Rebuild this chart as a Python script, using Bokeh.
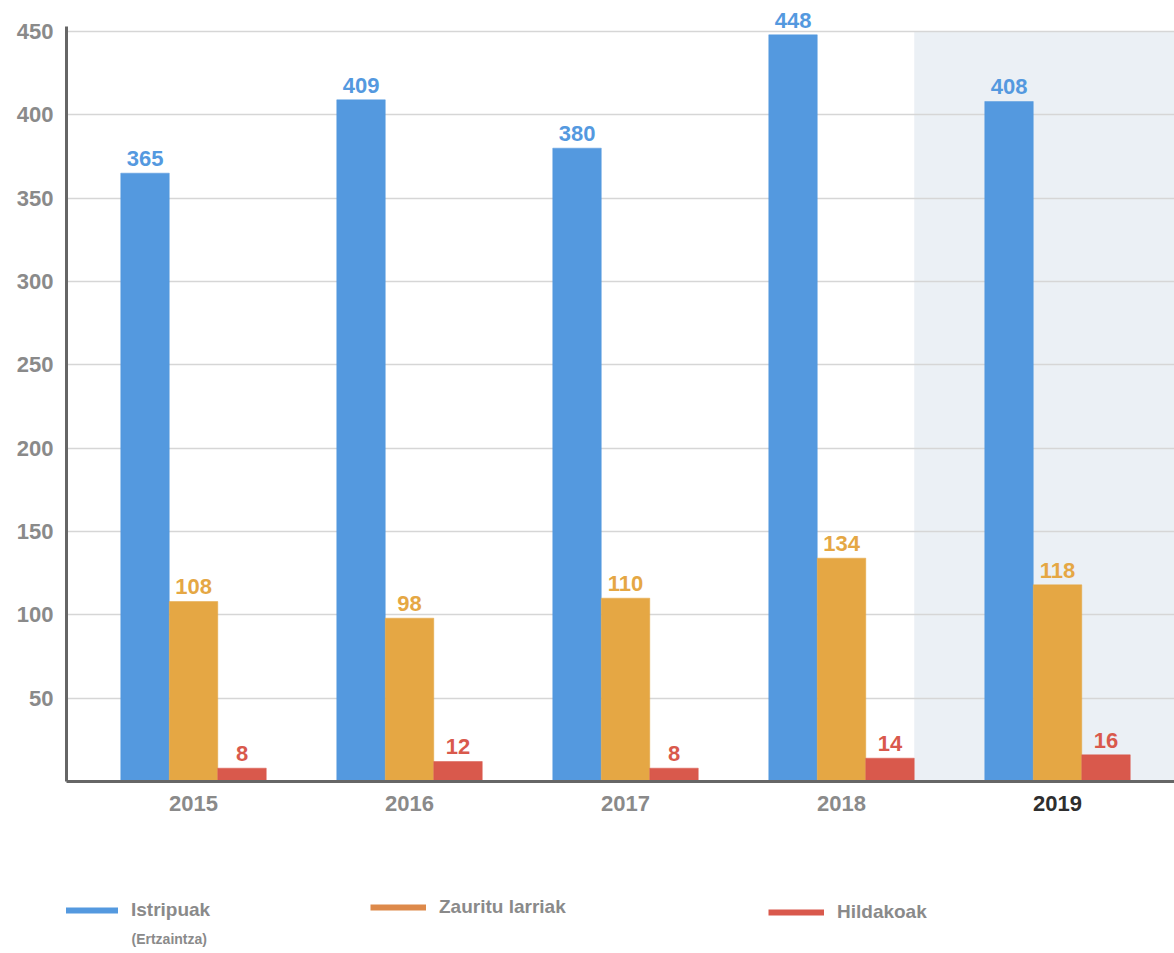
import numpy as np
from bokeh.plotting import figure
from bokeh.layouts import column
from bokeh.models import Range1d, FixedTicker, Legend, LegendItem, Label
from bokeh.core.properties import value
from bokeh.embed import file_html
from bokeh.resources import INLINE

# ---- data ----
years = ["2015", "2016", "2017", "2018", "2019"]
istripuak = [365, 409, 380, 448, 408]
zauritu_larriak = [108, 98, 110, 134, 118]
hildakoak = [8, 12, 8, 14, 16]
series_labels = ["Istripuak", "Zauritu larriak", "Hildakoak"]
series_sublabel = "(Ertzaintza)"
y_ticks = [50, 100, 150, 200, 250, 300, 350, 400, 450]
highlight_year = "2019"

# ---- style ----
BLUE = "#5499df"
ORANGE = "#e5a744"
RED = "#d9594c"
LEG_ORANGE = "#dd894a"
SHADE = "#ebf0f5"
GRAY_TXT = "#8a8a8a"
DARK_TXT = "#2e2e2e"
AXIS_COL = "#666666"
FONT = "Liberation Sans"

W = 1174
LEFT = 66
TOP = 5
H1 = 790
H2 = 160
BOTTOM_Y = 781
PX_PER_Y = 1.6667
X0 = -0.588
PX_PER_UNIT = 216.0
X1 = X0 + (W - LEFT) / PX_PER_UNIT
Y1 = (BOTTOM_Y - TOP) / PX_PER_Y
AXIS_TOP = 453

xpos = np.arange(len(years))
bw = 0.2245

# ---------------- main chart ----------------
p = figure(width=W, height=H1,
           x_range=Range1d(X0, X1), y_range=Range1d(0, Y1),
           output_backend="svg", toolbar_location=None,
           min_border_left=LEFT, min_border_right=0,
           min_border_top=TOP, min_border_bottom=H1 - BOTTOM_Y)
p.outline_line_color = None
p.background_fill_color = "white"

hi = years.index(highlight_year)
band = p.quad(left=[(hi - 1) + 1.5 * bw], right=[X1 + 1],
              bottom=[0], top=[y_ticks[-1]],
              fill_color=SHADE, line_color=None)
band.level = "image"

series = [istripuak, zauritu_larriak, hildakoak]
colors = [BLUE, ORANGE, RED]
offsets = [-bw, 0.0, bw]
for vals, col, off in zip(series, colors, offsets):
    xs = xpos + off
    p.vbar(x=xs, top=vals, width=bw, fill_color=col, line_color=col, line_width=0.5)
    p.text(x=xs, y=vals, text=[str(v) for v in vals],
           text_font=value(FONT), text_font_style="bold", text_font_size="22px",
           text_color=col, text_align="center", text_baseline="bottom",
           y_offset=-7)

p.yaxis.ticker = FixedTicker(ticks=y_ticks)
p.yaxis.bounds = (0, AXIS_TOP)
p.yaxis.major_tick_line_color = None
p.yaxis.minor_tick_line_color = None
p.yaxis.axis_line_color = AXIS_COL
p.yaxis.axis_line_width = 3
p.yaxis.major_label_text_font = FONT
p.yaxis.major_label_text_font_style = "bold"
p.yaxis.major_label_text_font_size = "22px"
p.yaxis.major_label_text_color = GRAY_TXT
p.yaxis.major_label_standoff = 7

p.xaxis.ticker = FixedTicker(ticks=[])
p.xaxis.major_tick_line_color = None
p.xaxis.minor_tick_line_color = None
p.xaxis.major_label_text_font_size = "0px"
p.xaxis.major_label_standoff = 0
p.xaxis.axis_line_color = AXIS_COL
p.xaxis.axis_line_width = 3

p.xgrid.grid_line_color = None
p.ygrid.grid_line_color = "#d6d6d6"
p.ygrid.grid_line_width = 1.5

# ---------------- category labels + legend strip ----------------
p2 = figure(width=W, height=H2,
            x_range=p.x_range, y_range=Range1d(0, H2),
            output_backend="svg", toolbar_location=None,
            min_border_left=LEFT, min_border_right=0, min_border_top=0, min_border_bottom=0)
p2.outline_line_color = None
p2.axis.visible = False
p2.grid.grid_line_color = None

label_colors = [DARK_TXT if y == highlight_year else GRAY_TXT for y in years]
p2.text(x=xpos, y=[H2 - 13] * len(years), text=years,
        text_font=value(FONT), text_font_style="bold", text_font_size="22px",
        text_color=label_colors, text_align="center", text_baseline="middle")

leg_colors = [BLUE, LEG_ORANGE, RED]
leg_locs = [(-4, 27), (304, 30), (702, 25)]
for name, col, loc in zip(series_labels, leg_colors, leg_locs):
    r = p2.line(x=[np.nan, np.nan], y=[np.nan, np.nan], line_color=col, line_width=6)
    leg = Legend(items=[LegendItem(label=name, renderers=[r], index=0)], location=loc,
                 orientation="horizontal", glyph_width=56, glyph_height=26,
                 label_height=26, label_standoff=13, padding=0, margin=0, spacing=0,
                 border_line_color=None, background_fill_alpha=0,
                 label_text_font=FONT, label_text_font_style="bold",
                 label_text_font_size="19px", label_text_color=GRAY_TXT,
                 label_text_baseline="middle")
    p2.add_layout(leg, "center")

p2.add_layout(Label(x=65, y=12, x_units="screen", y_units="screen",
                    text=series_sublabel, text_baseline="middle",
                    text_font=FONT, text_font_style="bold", text_font_size="14px",
                    text_color=GRAY_TXT))

layout = column(p, p2, spacing=0)
open("out.html", "w").write(file_html(layout, INLINE))
